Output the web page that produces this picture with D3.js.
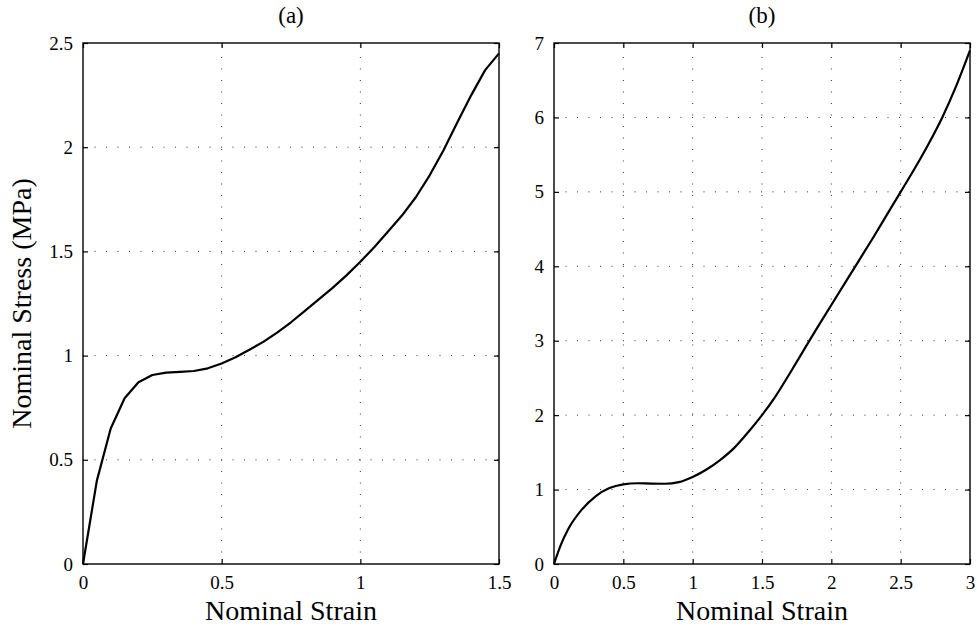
<!DOCTYPE html>
<html>
<head>
<meta charset="utf-8">
<script src="https://cdn.jsdelivr.net/npm/d3@7"></script>
<style>
  html, body { margin: 0; padding: 0; background: #fff; }
  svg text { font-family: "Liberation Serif", "Times New Roman", serif; fill: #000; }
</style>
</head>
<body>
<svg id="chart" width="977" height="629"></svg>
<script>
// Panel (a): nominal stress vs nominal strain
const strainA = [0, 0.05, 0.1, 0.15, 0.2, 0.25, 0.3, 0.35, 0.4, 0.45, 0.5, 0.55, 0.6, 0.65, 0.7,
                 0.75, 0.8, 0.85, 0.9, 0.95, 1.0, 1.05, 1.1, 1.15, 1.2, 1.25, 1.3, 1.35, 1.4, 1.45, 1.5];
const stressA = [0, 0.40, 0.65, 0.795, 0.872, 0.907, 0.918, 0.922, 0.926, 0.939, 0.962, 0.992, 1.028, 1.066, 1.11,
                 1.16, 1.215, 1.27, 1.325, 1.385, 1.45, 1.52, 1.595, 1.672, 1.76, 1.865, 1.985, 2.12, 2.25, 2.37, 2.45];

// Panel (b)
const strainB = [0, 0.05, 0.1, 0.2, 0.3, 0.4, 0.5, 0.6, 0.7, 0.8, 0.9, 1.0, 1.1, 1.2, 1.3, 1.4, 1.5,
                 1.6, 1.7, 1.8, 1.9, 2.0, 2.1, 2.2, 2.3, 2.4, 2.5, 2.6, 2.7, 2.8, 2.9, 3.0];
const stressB = [0, 0.26, 0.46, 0.73, 0.91, 1.02, 1.07, 1.085, 1.08, 1.078, 1.1, 1.17, 1.27, 1.40, 1.56, 1.77, 2.0,
                 2.26, 2.56, 2.87, 3.18, 3.48, 3.78, 4.08, 4.38, 4.69, 5.0, 5.31, 5.64, 6.0, 6.42, 6.9];

const xTicksA = [0, 0.5, 1, 1.5];
const yTicksA = [0, 0.5, 1, 1.5, 2, 2.5];
const xTicksB = [0, 0.5, 1, 1.5, 2, 2.5, 3];
const yTicksB = [0, 1, 2, 3, 4, 5, 6, 7];

const titles = ["(a)", "(b)"];
const xLabel = "Nominal Strain";
const yLabel = "Nominal Stress (MPa)";

const serif = '"Liberation Serif", "Times New Roman", serif';
const svg = d3.select("#chart");
const plotTop = 43, plotBottom = 564;

const panels = [
  { left: 83,  right: 499, xDom: [0, 1.5], yDom: [0, 2.5], xs: strainA, ys: stressA, xt: xTicksA, yt: yTicksA, title: titles[0], curve: d3.curveLinear },
  { left: 554, right: 970, xDom: [0, 3],   yDom: [0, 7],   xs: strainB, ys: stressB, xt: xTicksB, yt: yTicksB, title: titles[1], curve: d3.curveMonotoneX }
];

const fmt = d => String(d);

panels.forEach(p => {
  const x = d3.scaleLinear().domain(p.xDom).range([p.left, p.right]);
  const y = d3.scaleLinear().domain(p.yDom).range([plotBottom, plotTop]);
  const g = svg.append("g");

  // dotted grid
  const grid = g.append("g").attr("stroke", "#333").attr("stroke-width", 1)
    .attr("stroke-dasharray", "1,10.5").attr("fill", "none");
  p.xt.slice(1, -1).forEach(t => {
    grid.append("line").attr("x1", x(t)).attr("x2", x(t)).attr("y1", plotBottom).attr("y2", plotTop);
  });
  p.yt.slice(1, -1).forEach(t => {
    grid.append("line").attr("x1", p.left).attr("x2", p.right).attr("y1", y(t)).attr("y2", y(t));
  });

  // axes with inward ticks, box on
  const tick = 5;
  g.append("g").attr("transform", `translate(0,${plotBottom})`)
    .call(d3.axisBottom(x).tickValues(p.xt).tickFormat(fmt).tickSizeInner(-tick).tickSizeOuter(0).tickPadding(12))
    .call(a => a.select(".domain").remove());
  g.append("g").attr("transform", `translate(0,${plotTop})`)
    .call(d3.axisTop(x).tickValues(p.xt).tickFormat("").tickSizeInner(-tick).tickSizeOuter(0))
    .call(a => a.select(".domain").remove());
  g.append("g").attr("transform", `translate(${p.left},0)`)
    .call(d3.axisLeft(y).tickValues(p.yt).tickFormat(fmt).tickSizeInner(-tick).tickSizeOuter(0).tickPadding(10))
    .call(a => a.select(".domain").remove());
  g.append("g").attr("transform", `translate(${p.right},0)`)
    .call(d3.axisRight(y).tickValues(p.yt).tickFormat("").tickSizeInner(-tick).tickSizeOuter(0))
    .call(a => a.select(".domain").remove());

  g.selectAll(".tick line").attr("stroke", "#000").attr("stroke-width", 1.2);
  g.selectAll(".tick text").style("font-size", "19px").style("font-family", serif);

  g.append("rect").attr("x", p.left).attr("y", plotTop)
    .attr("width", p.right - p.left).attr("height", plotBottom - plotTop)
    .attr("fill", "none").attr("stroke", "#000").attr("stroke-width", 1.4);

  // data curve
  const line = d3.line().x(d => x(d[0])).y(d => y(d[1])).curve(p.curve);
  g.append("path").datum(p.xs.map((v, i) => [v, p.ys[i]]))
    .attr("d", line).attr("fill", "none").attr("stroke", "#000")
    .attr("stroke-width", 2.2).attr("stroke-linejoin", "round");

  // title
  g.append("text").attr("x", (p.left + p.right) / 2).attr("y", 23)
    .attr("text-anchor", "middle").style("font-size", "23px").style("font-family", serif).text(p.title);

  // x label
  g.append("text").attr("x", (p.left + p.right) / 2).attr("y", 620)
    .attr("text-anchor", "middle").style("font-size", "28px").style("font-family", serif).text(xLabel);
});

svg.append("text")
  .attr("transform", `translate(31,${(plotTop + plotBottom) / 2}) rotate(-90)`)
  .attr("text-anchor", "middle").style("font-size", "28px").style("font-family", serif).text(yLabel);
</script>
</body>
</html>
